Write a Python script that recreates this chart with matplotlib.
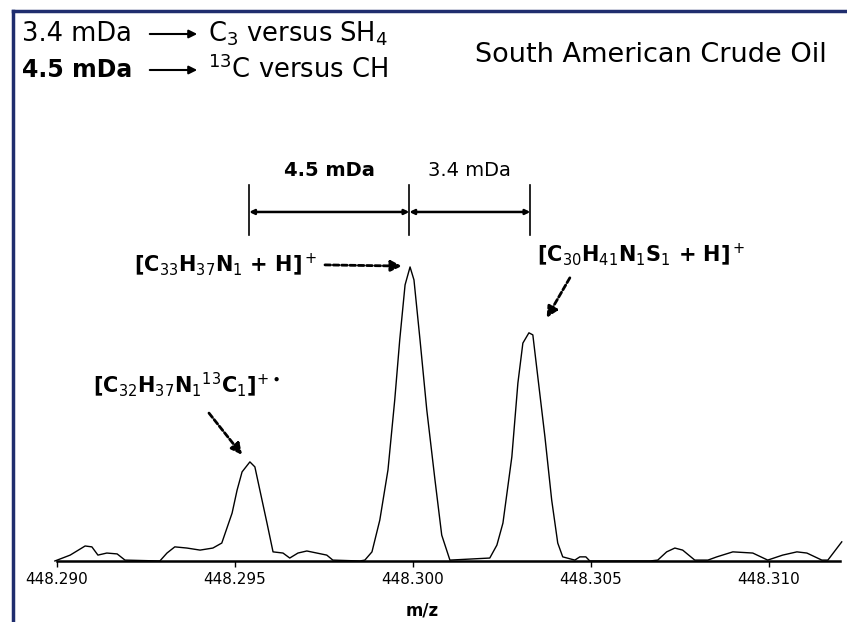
import matplotlib
matplotlib.use("Agg")
import matplotlib.pyplot as plt
from matplotlib.lines import Line2D

# spectrum profile (m/z, relative intensity)
mz = [448.28994, 448.29037, 448.29079, 448.29098, 448.29115, 448.29140, 448.29169, 448.29191,
      448.29289, 448.29309, 448.29331, 448.29365, 448.29402, 448.29438, 448.29463, 448.29492,
      448.29506, 448.29520, 448.29542, 448.29556, 448.29570, 448.29590, 448.29607, 448.29635,
      448.29654, 448.29677, 448.29702, 448.29730, 448.29758, 448.29775, 448.29851, 448.29865,
      448.29885, 448.29907, 448.29930, 448.29949, 448.29963, 448.29978, 448.29992, 448.30003,
      448.30020, 448.30039, 448.30062, 448.30081, 448.30104, 448.30216, 448.30236, 448.30253,
      448.30278, 448.30295, 448.30309, 448.30326, 448.30337, 448.30351, 448.30371, 448.30390,
      448.30407, 448.30421, 448.30455, 448.30469, 448.30486, 448.30497, 448.30666, 448.30688,
      448.30713, 448.30736, 448.30758, 448.30792, 448.30829, 448.30854, 448.30899, 448.30955,
      448.30997, 448.31039, 448.31079, 448.31107, 448.31149, 448.31166, 448.31205]
intensity = [0.0, 2.0, 5.1, 4.8, 2.0, 2.7, 2.4, 0.3,
             0.0, 2.7, 4.8, 4.4, 3.7, 4.4, 6.1, 16.3,
             24.1, 30.3, 33.7, 32.0, 24.1, 12.9, 3.1, 2.7,
             1.0, 2.7, 3.4, 2.7, 2.0, 0.3, 0.0, 0.3,
             3.1, 13.9, 31.0, 54.8, 75.2, 93.9, 100.0, 95.6,
             75.2, 51.4, 27.6, 8.8, 0.3, 1.0, 5.4, 12.9,
             35.4, 60.5, 74.1, 77.6, 76.9, 62.6, 42.2, 20.7,
             6.1, 1.4, 0.3, 1.4, 1.4, 0.0, 0.0, 0.3,
             3.1, 4.4, 3.7, 0.3, 0.3, 1.4, 3.1, 2.7,
             0.3, 2.0, 3.1, 2.7, 0.3, 0.3, 6.5]

peak_mz = [448.2954, 448.2999, 448.3033]
tick_mz = [448.290, 448.295, 448.300, 448.305, 448.310]

fig = plt.figure(figsize=(8.47, 6.22), dpi=100)
ax = fig.add_axes([0.0673, 0.0981, 0.9244, 0.8698])

ax.plot(mz, intensity, color="black", lw=1.0, clip_on=False)
ax.set_xlim(448.2900, 448.3120)
ax.set_ylim(0, 184)

for s in ["left", "top", "right"]:
    ax.spines[s].set_visible(False)
ax.spines["bottom"].set_linewidth(1.8)
ax.set_yticks([])
ax.set_xticks(tick_mz)
ax.set_xticklabels(["%.3f" % t for t in tick_mz])
ax.tick_params(axis="x", direction="out", length=4, width=1, pad=4, labelsize=11)
ax.set_xlabel("m/z", fontsize=12, fontweight="bold")
ax.xaxis.set_label_coords(0.467, -0.075)

# dimension lines between the peaks
for p in peak_mz:
    ax.plot([p, p], [110.9, 127.9], color="black", lw=1.2)
for a, b in [(peak_mz[0], peak_mz[1]), (peak_mz[1], peak_mz[2])]:
    ax.annotate("", xy=(b, 118.7), xytext=(a, 118.7),
                arrowprops=dict(arrowstyle="<|-|>", color="black", lw=1.8,
                                mutation_scale=7, shrinkA=0, shrinkB=0))
ax.text((peak_mz[0] + peak_mz[1]) / 2, 129.5, "4.5 mDa", ha="center", va="bottom",
        fontsize=14, fontweight="bold")
ax.text((peak_mz[1] + peak_mz[2]) / 2, 129.5, "3.4 mDa", ha="center", va="bottom",
        fontsize=14)

# peak labels with dashed arrows
dash_arrow = dict(arrowstyle="-|>", color="black", lw=2.0, linestyle=(0, (2, 1)),
                  mutation_scale=16, shrinkA=0, shrinkB=0)
ax.annotate("", xy=(448.29969, 100.3), xytext=(448.29753, 100.7), arrowprops=dash_arrow)
ax.text(448.29733, 100.7, r"[C$_{33}$H$_{37}$N$_1$ + H]$^+$", ha="right", va="center",
        fontsize=15, fontweight="bold")

ax.annotate("", xy=(448.30376, 82.7), xytext=(448.30441, 96.3), arrowprops=dash_arrow)
ax.text(448.30643, 104.1, r"[C$_{30}$H$_{41}$N$_1$S$_1$ + H]$^+$", ha="center", va="center",
        fontsize=15, fontweight="bold")

ax.annotate("", xy=(448.29520, 36.1), xytext=(448.29427, 50.3), arrowprops=dash_arrow)
ax.text(448.29365, 59.9, r"[C$_{32}$H$_{37}$N$_1$$^{13}$C$_1$]$^{+\bullet}$", ha="center",
        va="center", fontsize=15, fontweight="bold")

# legend-like notes at the top left
fig.text(22 / 847, 1 - 34 / 622, "3.4 mDa", fontsize=18.5, va="center", ha="left")
fig.text(22 / 847, 1 - 70 / 622, "4.5 mDa", fontsize=17, va="center", ha="left",
         fontweight="bold")
for yy in [34, 70]:
    fig.add_artist(matplotlib.patches.FancyArrowPatch(
        (147 / 847, 1 - yy / 622), (200 / 847, 1 - yy / 622),
        transform=fig.transFigure, arrowstyle="-|>", mutation_scale=12,
        color="black", lw=1.5))
fig.text(208 / 847, 1 - 34 / 622, r"C$_3$ versus SH$_4$", fontsize=18.5, va="center", ha="left")
fig.text(208 / 847, 1 - 70 / 622, r"$^{13}$C versus CH", fontsize=18.5, va="center", ha="left")
fig.text(475 / 847, 1 - 55 / 622, "South American Crude Oil", fontsize=19.5, va="center",
         ha="left")

# navy frame on top and left
navy = "#1f2d6e"
fig.add_artist(Line2D([13 / 847, 1], [1 - 11 / 622, 1 - 11 / 622], color=navy, lw=2.5,
                      transform=fig.transFigure))
fig.add_artist(Line2D([13 / 847, 13 / 847], [0, 1 - 11 / 622], color=navy, lw=2.5,
                      transform=fig.transFigure))

fig.savefig("out.png", dpi=100)
